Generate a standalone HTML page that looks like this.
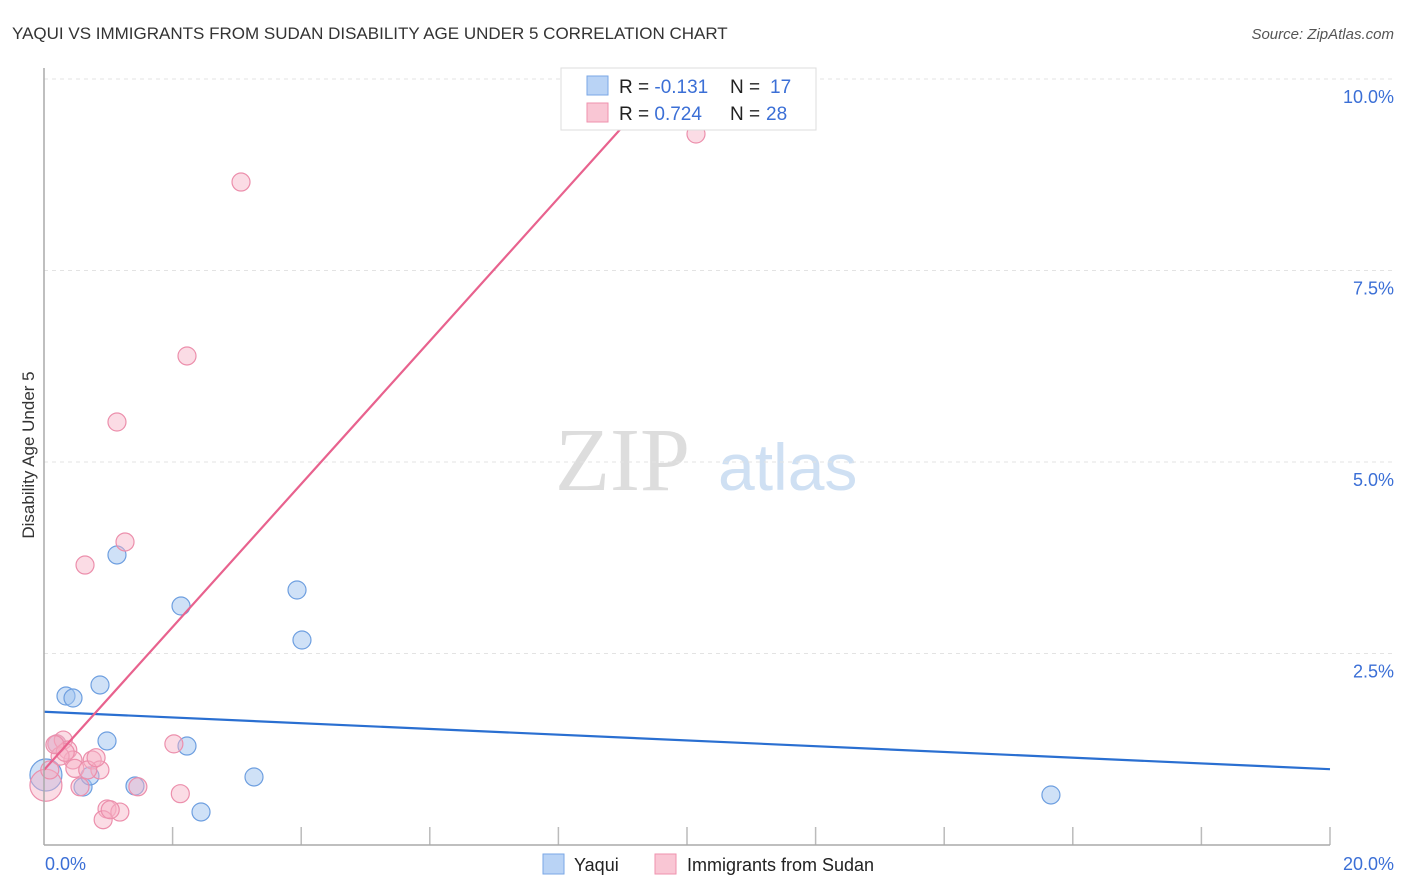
<!DOCTYPE html>
<html><head><meta charset="utf-8"><style>
body{margin:0;background:#fff;font-family:"Liberation Sans",sans-serif;}
</style></head><body>
<svg id="chart" width="1406" height="892" style="display:block">
<text x="12" y="39" font-size="17" fill="#333">YAQUI VS IMMIGRANTS FROM SUDAN DISABILITY AGE UNDER 5 CORRELATION CHART</text>
<text x="1394" y="39" font-size="15" fill="#555" font-style="italic" text-anchor="end">Source: ZipAtlas.com</text>
<text x="34" y="455" font-size="17" fill="#333" text-anchor="middle" transform="rotate(-90 34 455)">Disability Age Under 5</text>
<text x="555" y="490" font-size="90" fill="#ddd" font-family="Liberation Serif,serif">ZIP</text>
<text x="718" y="490" font-size="66" fill="#cfe0f3">atlas</text>
<g id="grid"></g><g id="pts"></g><g id="lines"></g>
<line x1="44" y1="68" x2="44" y2="845" stroke="#aaa" stroke-width="1.5"/>
<line x1="44" y1="845" x2="1330" y2="845" stroke="#aaa" stroke-width="1.5"/>
<text x="45" y="870" font-size="18" fill="#3b6fd6">0.0%</text>
<text x="1394" y="870" font-size="18" fill="#3b6fd6" text-anchor="end">20.0%</text>
<g>
<rect x="561" y="68" width="255" height="62" fill="#fff" stroke="#ddd"/>
<rect x="587" y="76" width="21" height="19" fill="#b9d3f5" stroke="#7aa7e6"/>
<rect x="587" y="103" width="21" height="19" fill="#f9c6d4" stroke="#ef92ae"/>
<text x="619" y="93" font-size="19" fill="#222">R = <tspan fill="#3b6fd6">-0.131</tspan><tspan x="730">N = </tspan><tspan fill="#3b6fd6" x="770">17</tspan></text>
<text x="619" y="120" font-size="19" fill="#222">R = <tspan fill="#3b6fd6">0.724</tspan><tspan x="730">N = </tspan><tspan fill="#3b6fd6" x="766">28</tspan></text>
</g>
<g>
<rect x="543" y="854" width="21" height="20" fill="#b9d3f5" stroke="#7aa7e6"/>
<text x="574" y="871" font-size="18" fill="#222">Yaqui</text>
<rect x="655" y="854" width="21" height="20" fill="#f9c6d4" stroke="#ef92ae"/>
<text x="687" y="871" font-size="18" fill="#222">Immigrants from Sudan</text>
</g>
</svg>
<script>
const yTicks=[2.5,5,7.5,10];
const yTickLabels=["2.5%","5.0%","7.5%","10.0%"];
const xTicks=[2,4,6,8,10,12,14,16,18,20];
const yaquiX=[0.342,0.451,0.871,0.98,1.135,2.131,2.224,2.442,3.266,3.935,4.012,15.66,0.03,0.607,0.715,1.415,0.2];
const yaquiY=[1.945,1.919,2.089,1.358,3.786,3.12,1.292,0.431,0.888,3.329,2.676,0.653,0.914,0.757,0.901,0.77,1.32];
const yaquiR=[9,9,9,9,9,9,9,9,9,9,9,9,16,9,9,9,9];
const sudanX=[3.064,2.224,1.135,10.14,1.26,0.638,0.2,0.3,0.37,0.45,0.48,0.75,0.87,0.68,0.56,0.98,0.92,1.18,1.46,2.02,2.12,0.03,0.25,0.09,0.33,1.03,0.81,0.17];
const sudanY=[8.655,6.384,5.522,9.282,3.956,3.655,1.32,1.37,1.24,1.11,1.0,1.11,0.98,0.98,0.76,0.47,0.33,0.43,0.76,1.32,0.67,0.78,1.16,0.98,1.21,0.46,1.14,1.31];
const sudanR=[9,9,9,9,9,9,9,9,9,9,9,9,9,9,9,9,9,9,9,9,9,16,9,9,9,9,9,9];
const yaquiTrend=[1.74,0.99];
const sudanTrendX=[0,9.58];
const sudanTrendY=[0.98,9.92];
const NS="http://www.w3.org/2000/svg";
const xs=v=>44+v*64.3, ys=v=>845-v*76.6;
function mk(tag,attrs,parent){const e=document.createElementNS(NS,tag);for(const k in attrs)e.setAttribute(k,attrs[k]);parent.appendChild(e);return e;}
const grid=document.getElementById('grid');
yTicks.forEach((t,i)=>{
 const l=mk('line',{x1:44,x2:1394,y1:ys(t),y2:ys(t),stroke:'#e3e3e3','stroke-dasharray':'4,4'},grid);
 
 
 const tx=mk('text',{x:1394,y:ys(t)+24,'font-size':18,fill:'#3b6fd6','text-anchor':'end'},grid);
 tx.textContent=yTickLabels[i];
 
 
});
xTicks.forEach(t=>{
 const l=mk('line',{x1:xs(t),x2:xs(t),y1:827,y2:845,stroke:'#bbb','stroke-width':1.5},grid);
 
 
});
const pts=document.getElementById('pts');
yaquiX.forEach((x,i)=>{
 const c=mk('circle',{cx:xs(x),cy:ys(yaquiY[i]),r:yaquiR[i],fill:'rgba(160,196,240,0.5)',stroke:'#6e9fe0','stroke-width':1.2},pts);
 
 
});
sudanX.forEach((x,i)=>{
 const c=mk('circle',{cx:xs(x),cy:ys(sudanY[i]),r:sudanR[i],fill:'rgba(246,178,198,0.45)',stroke:'#ec8fac','stroke-width':1.2},pts);
 
 
});
const lines=document.getElementById('lines');
const bl=mk('line',{x1:xs(0),y1:ys(yaquiTrend[0]),x2:xs(20),y2:ys(yaquiTrend[1]),stroke:'#2a6fd1','stroke-width':2.2},lines);


const pl=mk('line',{x1:xs(sudanTrendX[0]),y1:ys(sudanTrendY[0]),x2:xs(sudanTrendX[1]),y2:ys(sudanTrendY[1]),stroke:'#e8628e','stroke-width':2.2},lines);


</script>
</body></html>
